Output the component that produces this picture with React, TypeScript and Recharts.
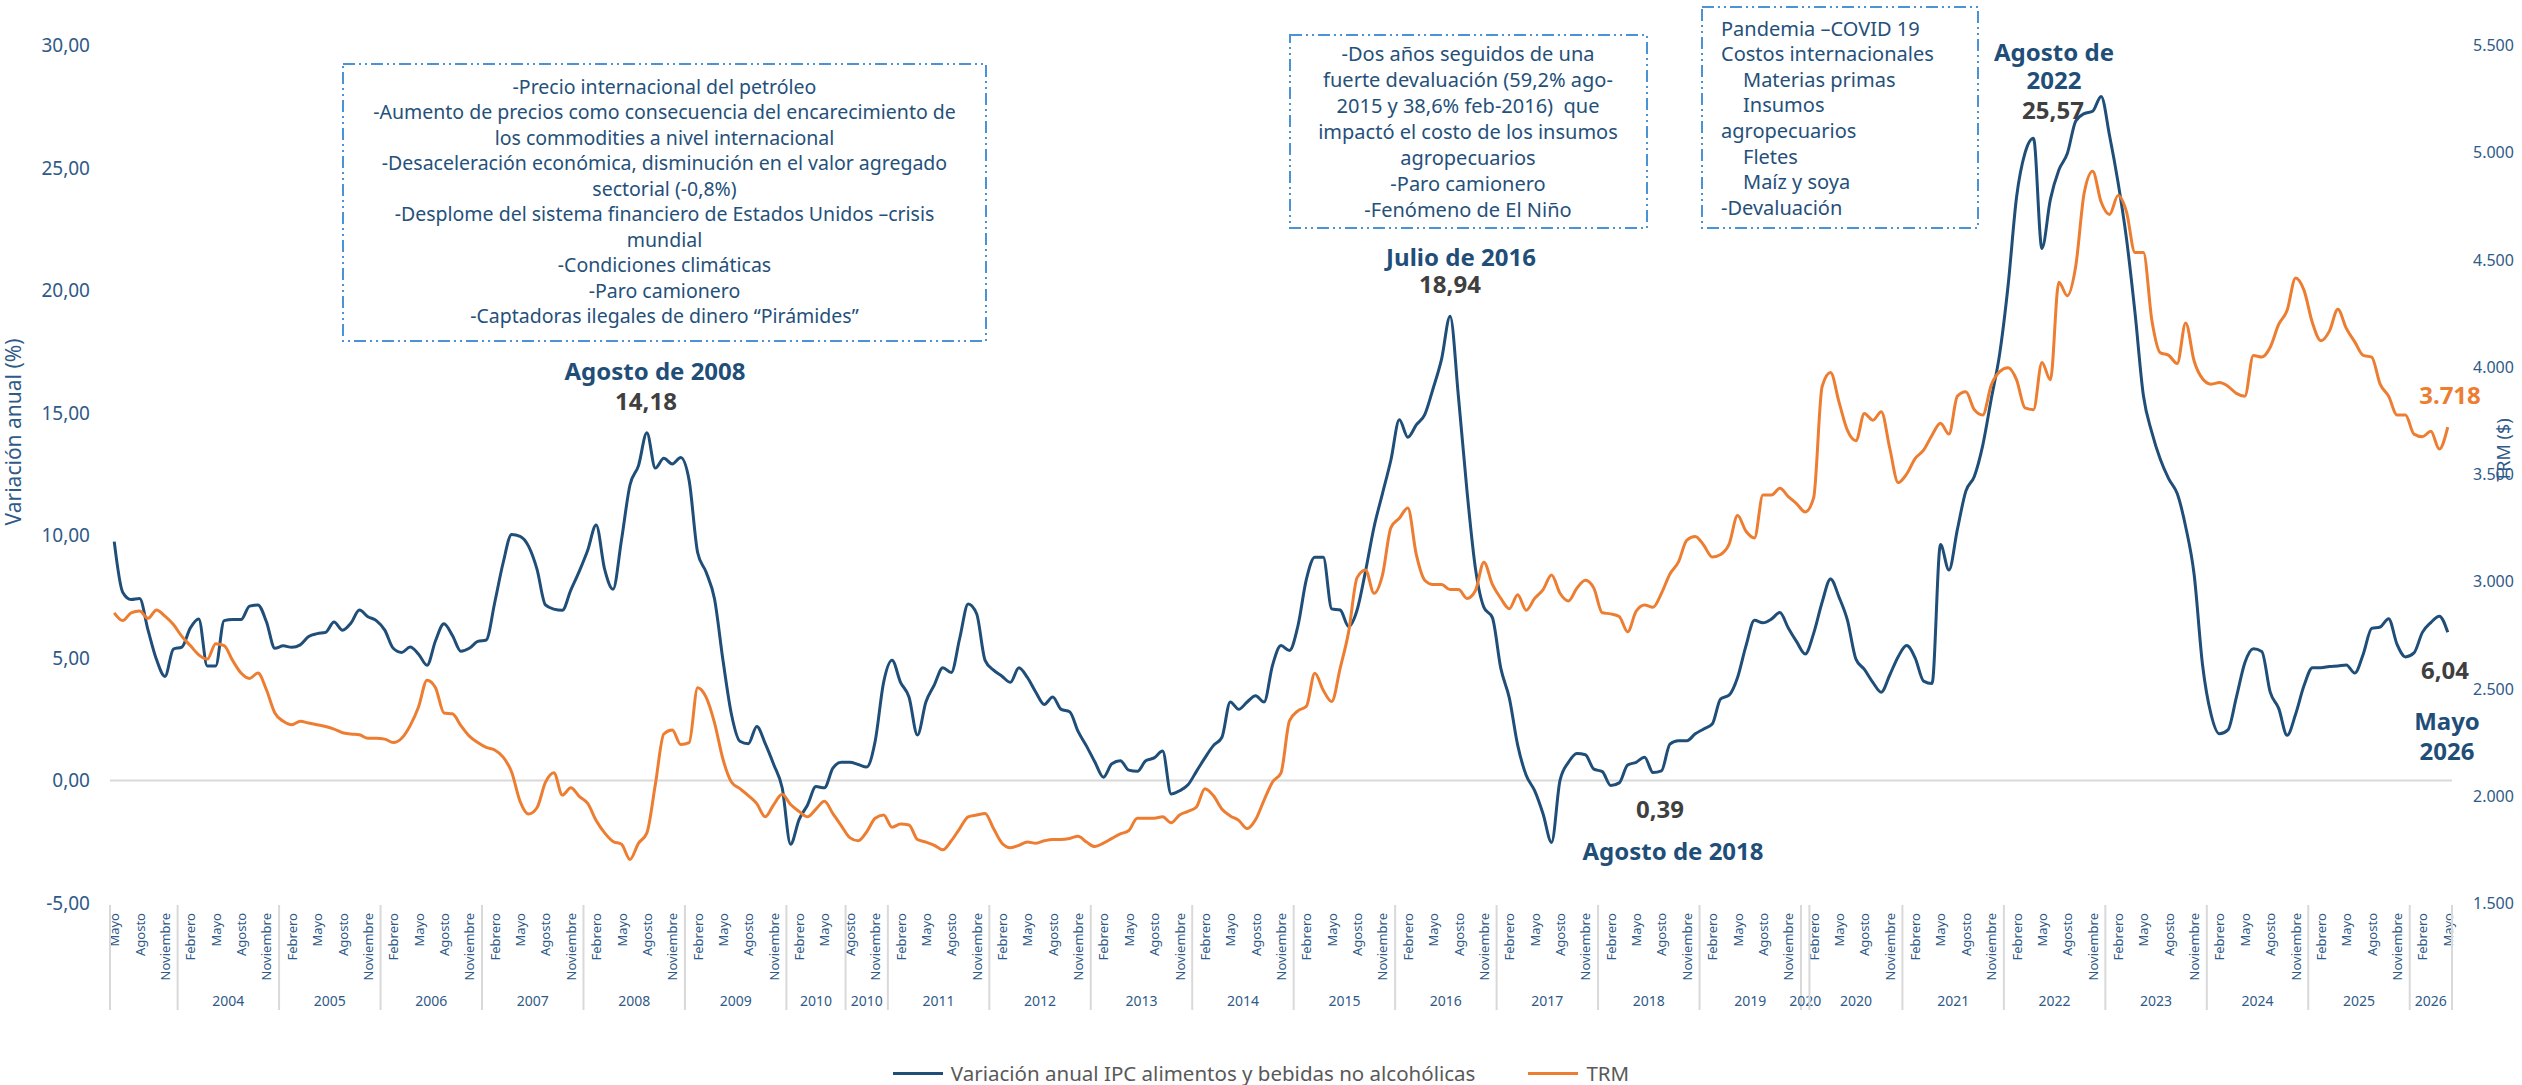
import React from 'react';
import { LineChart, Line, XAxis, YAxis, ReferenceLine, Legend } from 'recharts';

// ---------------- DATA ----------------
const MONTH_NAMES = ['Enero', 'Febrero', 'Marzo', 'Abril', 'Mayo', 'Junio', 'Julio', 'Agosto', 'Septiembre', 'Octubre', 'Noviembre', 'Diciembre'];
const START_MONTH = 4; // first point: Mayo 2003

const YEAR_GROUPS = [
  { label: '', months: 8 },
  { label: '2004', months: 12 },
  { label: '2005', months: 12 },
  { label: '2006', months: 12 },
  { label: '2007', months: 12 },
  { label: '2008', months: 12 },
  { label: '2009', months: 12 },
  { label: '2010', months: 7 },
  { label: '2010', months: 5 },
  { label: '2011', months: 12 },
  { label: '2012', months: 12 },
  { label: '2013', months: 12 },
  { label: '2014', months: 12 },
  { label: '2015', months: 12 },
  { label: '2016', months: 12 },
  { label: '2017', months: 12 },
  { label: '2018', months: 12 },
  { label: '2019', months: 12 },
  { label: '2020', months: 1 },
  { label: '2020', months: 11 },
  { label: '2021', months: 12 },
  { label: '2022', months: 12 },
  { label: '2023', months: 12 },
  { label: '2024', months: 12 },
  { label: '2025', months: 12 },
  { label: '2026', months: 5 },
];

// Variación anual IPC alimentos y bebidas no alcohólicas (%)
const IPC = [
  9.74, 7.68, 7.38, 7.42, 6.13, 4.93, 4.24, 5.36, 5.44, 6.22, 6.59, 4.67,
  4.67, 6.52, 6.56, 6.56, 7.11, 7.16, 6.47, 5.39, 5.49, 5.43, 5.53, 5.87,
  5.99, 6.04, 6.46, 6.13, 6.42, 6.95, 6.68, 6.52, 6.13, 5.39, 5.22, 5.44,
  5.15, 4.70, 5.70, 6.39, 5.91, 5.27, 5.39, 5.67, 5.73, 7.25, 8.88, 10.03,
  9.96, 9.56, 8.62, 7.16, 6.99, 6.94, 7.76, 8.53, 9.39, 10.42, 8.62, 7.80,
  9.82, 12.05, 12.83, 14.18, 12.74, 13.14, 12.91, 13.17, 12.23, 9.3, 8.5, 7.4,
  4.9, 2.7, 1.6, 1.5, 2.2, 1.5, 0.65, -0.3, -2.6, -1.6, -1.0, -0.25,
  -0.3, 0.5, 0.74, 0.74, 0.65, 0.55, 1.6, 4.0, 4.9, 4.0, 3.4, 1.85,
  3.2, 3.9, 4.6, 4.4, 5.8, 7.2, 6.8, 4.9, 4.5, 4.25, 4.0, 4.6,
  4.2, 3.6, 3.1, 3.4, 2.9, 2.8, 2.0, 1.4, 0.74, 0.13, 0.68, 0.8,
  0.42, 0.37, 0.8, 0.92, 1.2, -0.55, -0.42, -0.18, 0.37, 0.92, 1.42, 1.75,
  3.2, 2.9, 3.2, 3.45, 3.2, 4.7, 5.5, 5.3, 6.3, 8.2, 9.1, 9.1,
  7.0, 6.95, 6.28, 6.95, 8.54, 10.33, 11.7, 13.07, 14.71, 14.0, 14.5, 14.92,
  16.0, 17.2, 18.94, 15.6, 11.8, 8.64, 7.06, 6.64, 4.57, 3.37, 1.43, 0.21,
  -0.42, -1.37, -2.53, 0.0, 0.74, 1.1, 1.05, 0.46, 0.36, -0.21, -0.1, 0.63,
  0.74, 0.95, 0.32, 0.39, 1.48, 1.62, 1.62, 1.9, 2.1, 2.3, 3.33, 3.48,
  4.2, 5.5, 6.53, 6.43, 6.58, 6.85, 6.22, 5.65, 5.16, 6.0, 7.27, 8.22,
  7.48, 6.53, 4.95, 4.53, 4.0, 3.6, 4.3, 5.05, 5.5, 5.0, 4.05, 3.95,
  9.62, 8.58, 10.24, 11.8, 12.4, 13.67, 15.55, 17.4, 20.2, 23.8, 25.6, 26.2,
  21.7, 23.7, 24.9, 25.57, 26.9, 27.2, 27.3, 27.9, 26.3, 24.4, 22.1, 19.1,
  15.7, 14.2, 13.1, 12.3, 11.7, 10.35, 8.4, 4.7, 2.7, 1.9, 2.06, 3.4,
  4.8, 5.37, 5.26, 3.6, 2.94, 1.84, 2.7, 3.87, 4.6, 4.6, 4.65, 4.67,
  4.71, 4.38, 5.15, 6.2, 6.26, 6.6, 5.55, 5.04, 5.2, 6.04, 6.44, 6.7,
  6.04,
];

// TRM ($)
const TRM = [
  2853, 2817, 2853, 2861, 2827, 2866, 2837, 2798, 2743, 2700, 2657, 2637,
  2709, 2700, 2631, 2572, 2547, 2572, 2494, 2386, 2347, 2331, 2347, 2339,
  2331, 2323, 2311, 2294, 2288, 2284, 2268, 2268, 2264, 2248, 2268, 2327,
  2415, 2539, 2504, 2386, 2382, 2327, 2278, 2248, 2225, 2213, 2180, 2111,
  1974, 1915, 1944, 2062, 2107, 2003, 2037, 1997, 1964, 1885, 1827, 1787,
  1774, 1703, 1778, 1827, 2052, 2288, 2307, 2239, 2248, 2504, 2460, 2340,
  2170, 2064, 2033, 2001, 1963, 1902, 1959, 2007, 1959, 1927, 1902, 1938,
  1974, 1917, 1860, 1805, 1790, 1832, 1895, 1910, 1853, 1868, 1864, 1796,
  1784, 1769, 1748, 1790, 1847, 1902, 1910, 1917, 1847, 1779, 1758, 1769,
  1784, 1779, 1790, 1796, 1796, 1801, 1811, 1784, 1763, 1779, 1801, 1822,
  1838, 1895, 1895, 1895, 1902, 1874, 1910, 1927, 1948, 2033, 2001, 1938,
  1906, 1885, 1847, 1889, 1980, 2064, 2107, 2349, 2396, 2417, 2571, 2492,
  2439, 2595, 2764, 3017, 3053, 2944, 3029, 3250, 3294, 3342, 3125, 3005,
  2985, 2985, 2961, 2961, 2920, 2957, 3089, 2985, 2920, 2872, 2937, 2865,
  2920, 2961, 3029, 2944, 2908, 2968, 3005, 2968, 2853, 2848, 2836, 2764,
  2860, 2889, 2879, 2944, 3034, 3089, 3192, 3209, 3168, 3113, 3125, 3173,
  3306, 3233, 3202, 3402, 3402, 3433, 3395, 3361, 3323, 3390, 3908, 3973,
  3835, 3703, 3655, 3782, 3751, 3790, 3620, 3460, 3500, 3572, 3611, 3681,
  3737, 3686, 3863, 3883, 3800, 3775, 3914, 3977, 3995, 3939, 3808, 3800,
  4020, 3939, 4394, 4331, 4470, 4811, 4912, 4768, 4710, 4798, 4722, 4533,
  4533, 4217, 4065, 4053, 4015, 4204, 4027, 3944, 3919, 3926, 3909, 3876,
  3863, 4053, 4045, 4091, 4197, 4263, 4414, 4356, 4204, 4121, 4166, 4268,
  4179, 4116, 4053, 4045, 3919, 3863, 3775, 3775, 3686, 3674, 3699, 3616,
  3718,
];

const LEFT_TICKS = [-5, 0, 5, 10, 15, 20, 25, 30];
const RIGHT_TICKS = [1500, 2000, 2500, 3000, 3500, 4000, 4500, 5000, 5500];

const SERIES_IPC = 'Variación anual IPC alimentos y bebidas no alcohólicas';
const SERIES_TRM = 'TRM';
const LEGEND_ORDER = ['ipc', 'trm'];

const BOX1_LINES = [
  '-Precio internacional del petróleo',
  '-Aumento de precios como consecuencia del encarecimiento de',
  'los commodities a nivel internacional',
  '-Desaceleración económica, disminución en el valor agregado',
  'sectorial (-0,8%)',
  '-Desplome del sistema financiero de Estados Unidos –crisis',
  'mundial',
  '-Condiciones climáticas',
  '-Paro camionero',
  '-Captadoras ilegales de dinero “Pirámides”',
];
const BOX2_LINES = [
  '-Dos años seguidos de una',
  'fuerte devaluación (59,2% ago-',
  '2015 y 38,6% feb-2016)  que',
  'impactó el costo de los insumos',
  'agropecuarios',
  '-Paro camionero',
  '-Fenómeno de El Niño',
];
const BOX3_LINES = [
  { text: 'Pandemia –COVID 19', indent: false },
  { text: 'Costos internacionales', indent: false },
  { text: 'Materias primas', indent: true },
  { text: 'Insumos', indent: true },
  { text: 'agropecuarios', indent: false },
  { text: 'Fletes', indent: true },
  { text: 'Maíz y soya', indent: true },
  { text: '-Devaluación', indent: false },
];

// ---------------- LAYOUT ----------------
const W = 2522;
const H = 1085;
const PLOT_LEFT = 110;
const PLOT_RIGHT = 2452;
const PLOT_TOP = 45;
const PLOT_BOTTOM = 903;
const N = IPC.length;
const BAND = (PLOT_RIGHT - PLOT_LEFT) / N;
const FONT = "'Noto Sans', 'DejaVu Sans', sans-serif";
const AXIS_COLOR = '#2F5A87';
const BLUE = '#1F4E79';
const ORANGE = '#ED7D31';
const BOX_COLOR = '#4A94D6';
const BOX_TEXT = '#25507A';
const VALUE_COLOR = '#3F3F3F';

const data = IPC.map((v, i) => ({ idx: i, ipc: v, trm: TRM[i] }));

const groupByStart: Record<number, { label: string; months: number }> = {};
{
  let s = 0;
  for (const g of YEAR_GROUPS) {
    groupByStart[s] = g;
    s += g.months;
  }
}

const fmtLeft = (v: number) => v.toFixed(2).replace('.', ',');
const fmtRight = (v: number) => String(v).replace(/\B(?=(\d{3})+(?!\d))/g, '.');

const MONTH_TOP = PLOT_BOTTOM + 10;
const SEP_TOP = PLOT_BOTTOM + 2;
const SEP_BOTTOM = 1010;
const YEAR_Y = 1000;

const XTick = (props: any) => {
  const { x, payload } = props;
  const i: number = payload && payload.index != null ? payload.index : props.index;
  const els: any[] = [];
  if (i % 3 === 0) {
    els.push(
      <text
        key="m"
        x={x}
        y={MONTH_TOP}
        transform={`rotate(-90 ${x} ${MONTH_TOP})`}
        textAnchor="end"
        dominantBaseline="central"
        fontFamily={FONT}
        fontSize={13}
        fill={AXIS_COLOR}
      >
        {MONTH_NAMES[(START_MONTH + i) % 12]}
      </text>
    );
  }
  const g = groupByStart[i];
  if (g) {
    const left = x - BAND / 2;
    els.push(<line key="s" x1={left} x2={left} y1={SEP_TOP} y2={SEP_BOTTOM} stroke="#D9D9D9" strokeWidth={2} />);
    if (g.label) {
      els.push(
        <text
          key="y"
          x={left + (g.months * BAND) / 2}
          y={YEAR_Y}
          textAnchor="middle"
          dominantBaseline="central"
          fontFamily={FONT}
          fontSize={14}
          fill={AXIS_COLOR}
        >
          {g.label}
        </text>
      );
    }
  }
  if (i === N - 1) {
    const right = x + BAND / 2;
    els.push(<line key="e" x1={right} x2={right} y1={SEP_TOP} y2={SEP_BOTTOM} stroke="#D9D9D9" strokeWidth={2} />);
  }
  return <g>{els}</g>;
};

const LeftTick = (props: any) => (
  <text x={90} y={props.y} textAnchor="end" dominantBaseline="central" fontFamily={FONT} fontSize={19} fill={AXIS_COLOR}>
    {fmtLeft(props.payload.value)}
  </text>
);

const RightTick = (props: any) => (
  <text x={2473} y={props.y} textAnchor="start" dominantBaseline="central" fontFamily={FONT} fontSize={16} fill={AXIS_COLOR}>
    {fmtRight(props.payload.value)}
  </text>
);

const LegendContent = (props: any) => {
  const items = [...(props.payload || [])].sort(
    (a: any, b: any) => LEGEND_ORDER.indexOf(a.dataKey) - LEGEND_ORDER.indexOf(b.dataKey)
  );
  return (
    <div
      style={{
        display: 'flex',
        justifyContent: 'center',
        alignItems: 'center',
        height: 24,
        fontFamily: FONT,
        fontSize: 20.5,
        color: '#595959',
      }}
    >
      {items.map((it: any, k: number) => (
        <div key={k} style={{ display: 'flex', alignItems: 'center', marginLeft: k === 0 ? 0 : 53 }}>
          <span style={{ display: 'inline-block', width: 50, height: 3, background: it.color, marginRight: 8 }} />
          <span>{it.value}</span>
        </div>
      ))}
    </div>
  );
};

const Annotations = () => {
  const box1X = 343, box1Y = 64, box1W = 643, box1H = 277;
  const box2X = 1290, box2Y = 35, box2W = 357, box2H = 193;
  const box3X = 1702, box3Y = 7, box3W = 276, box3H = 221;
  const dash = '12 4 2 4 2 4';
  const boldLabel = (x: number, y: number, t: string, color: string, key: string) => (
    <text key={key} x={x} y={y} textAnchor="middle" dominantBaseline="central" fontFamily={FONT} fontWeight={700} fontSize={24} fill={color}>
      {t}
    </text>
  );
  return (
    <svg width={W} height={H} style={{ position: 'absolute', left: 0, top: 0, pointerEvents: 'none' }}>
      <rect x={box1X} y={box1Y} width={box1W} height={box1H} fill="#fff" stroke={BOX_COLOR} strokeWidth={2} strokeDasharray={dash} />
      {BOX1_LINES.map((t, k) => (
        <text key={k} x={box1X + box1W / 2} y={86 + k * 25.5} textAnchor="middle" dominantBaseline="central" fontFamily={FONT} fontSize={19.5} fill={BOX_TEXT}>
          {t}
        </text>
      ))}
      <rect x={box2X} y={box2Y} width={box2W} height={box2H} fill="#fff" stroke={BOX_COLOR} strokeWidth={2} strokeDasharray={dash} />
      {BOX2_LINES.map((t, k) => (
        <text key={k} x={1468} y={53 + k * 26} textAnchor="middle" dominantBaseline="central" fontFamily={FONT} fontSize={20} fill={BOX_TEXT} style={{ whiteSpace: 'pre' }}>
          {t}
        </text>
      ))}
      <rect x={box3X} y={box3Y} width={box3W} height={box3H} fill="#fff" stroke={BOX_COLOR} strokeWidth={2} strokeDasharray={dash} />
      {BOX3_LINES.map((l, k) => (
        <text key={k} x={l.indent ? 1743 : 1721} y={28 + k * 25.6} textAnchor="start" dominantBaseline="central" fontFamily={FONT} fontSize={20} fill={BOX_TEXT}>
          {l.text}
        </text>
      ))}
      {boldLabel(655, 370, 'Agosto de 2008', BLUE, 'a1')}
      {boldLabel(646, 400, '14,18', VALUE_COLOR, 'a2')}
      {boldLabel(1461, 256, 'Julio de 2016', BLUE, 'b1')}
      {boldLabel(1450, 283, '18,94', VALUE_COLOR, 'b2')}
      {boldLabel(1660, 808, '0,39', VALUE_COLOR, 'c1')}
      {boldLabel(1673, 850, 'Agosto de 2018', BLUE, 'c2')}
      {boldLabel(2054, 51, 'Agosto de', BLUE, 'd1')}
      {boldLabel(2054, 79, '2022', BLUE, 'd2')}
      {boldLabel(2053, 109, '25,57', VALUE_COLOR, 'd3')}
      {boldLabel(2450, 394, '3.718', ORANGE, 'e1')}
      {boldLabel(2445, 669, '6,04', VALUE_COLOR, 'f1')}
      {boldLabel(2447, 720, 'Mayo', BLUE, 'f2')}
      {boldLabel(2447, 750, '2026', BLUE, 'f3')}
    </svg>
  );
};

export default function App() {
  return (
    <div style={{ position: 'absolute', left: 0, top: 0, width: W, height: H, background: '#fff' }}>
      <LineChart width={W} height={H} data={data} margin={{ top: PLOT_TOP, right: 0, bottom: 0, left: 0 }} style={{ fontFamily: FONT }}>
        <XAxis
          dataKey="idx"
          type="category"
          interval={0}
          tick={<XTick />}
          tickLine={false}
          axisLine={false}
          height={158}
          padding={{ left: BAND / 2, right: BAND / 2 }}
        />
        <YAxis
          yAxisId="left"
          domain={[-5, 30]}
          ticks={LEFT_TICKS}
          width={PLOT_LEFT}
          axisLine={false}
          tickLine={false}
          tick={<LeftTick />}
          allowDataOverflow
          label={{
            content: () => (
              <text x={13} y={432} transform="rotate(-90 13 432)" textAnchor="middle" dominantBaseline="central" fontFamily={FONT} fontSize={21} fill={AXIS_COLOR}>
                Variación anual (%)
              </text>
            ),
          }}
        />
        <YAxis
          yAxisId="right"
          orientation="right"
          domain={[1500, 5500]}
          ticks={RIGHT_TICKS}
          width={W - PLOT_RIGHT}
          axisLine={false}
          tickLine={false}
          tick={<RightTick />}
          allowDataOverflow
          label={{
            content: () => (
              <text x={2503} y={450} transform="rotate(-90 2503 450)" textAnchor="middle" dominantBaseline="central" fontFamily={FONT} fontSize={18} fill={AXIS_COLOR}>
                TRM ($)
              </text>
            ),
          }}
        />
        <ReferenceLine yAxisId="left" y={0} stroke="#D9D9D9" strokeWidth={2} />
        <Line
          yAxisId="left"
          dataKey="ipc"
          name={SERIES_IPC}
          type="monotone"
          stroke={BLUE}
          strokeWidth={3}
          dot={false}
          isAnimationActive={false}
        />
        <Line
          yAxisId="right"
          dataKey="trm"
          name={SERIES_TRM}
          type="monotone"
          stroke={ORANGE}
          strokeWidth={3}
          dot={false}
          isAnimationActive={false}
        />
        <Legend verticalAlign="bottom" content={<LegendContent />} />
      </LineChart>
      <Annotations />
    </div>
  );
}
